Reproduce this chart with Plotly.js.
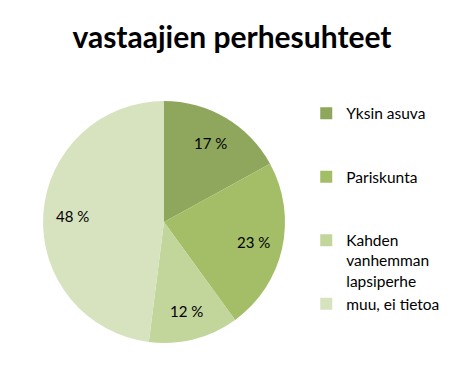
<!DOCTYPE html>
<html>
<head>
<meta charset="utf-8">
<script src="https://cdn.plot.ly/plotly-3.0.1.min.js"></script>
<style>html,body{margin:0;padding:0;background:#fff;}#chart{width:464px;height:390px;}</style>
</head>
<body>
<div id="chart"></div>
<script>
const categories = ["Yksin asuva", "Pariskunta", "Kahden vanhemman lapsiperhe", "muu, ei tietoa"];
const legendLabels = ["Yksin asuva<br> <br> ", "Pariskunta<br> <br> ", "Kahden<br>vanhemman<br>lapsiperhe", "muu, ei tietoa"];
const percentages = [17, 23, 12, 48];
const colors = ["#8EA75C", "#A3BE67", "#C2D59B", "#D7E3BF"];

const W = 464, H = 390;
const domX = [0.0927, 0.6142], domY = [0.1205, 0.741];
const fontFam = "Lato, 'Open Sans', sans-serif";

const trace = {
  type: "pie",
  labels: legendLabels,
  values: percentages,
  textinfo: "none",
  hoverinfo: "label+percent",
  sort: false,
  direction: "clockwise",
  rotation: 0,
  marker: {colors: colors, line: {width: 0}},
  domain: {x: domX, y: domY}
};

// data labels placed at each slice's mid-angle, computed from the values
const total = percentages.reduce((a, b) => a + b, 0);
const cxPx = (domX[0] + domX[1]) / 2 * W;
const cyPx = (domY[0] + domY[1]) / 2 * H;
const Rpx = Math.min((domX[1] - domX[0]) * W, (domY[1] - domY[0]) * H) / 2;
let cum = 0;
const annotations = percentages.map(v => {
  const mid = (cum + v / 2) / total * 2 * Math.PI;
  cum += v;
  const r = 0.76 * Rpx;
  return {
    xref: "paper", yref: "paper",
    x: (cxPx + r * Math.sin(mid)) / W,
    y: (cyPx + r * Math.cos(mid)) / H,
    text: v + " %", showarrow: false,
    xanchor: "center", yanchor: "middle",
    font: {family: fontFam, size: 15, color: "#000"}
  };
});

const layout = {
  width: W, height: H,
  margin: {l: 0, r: 0, t: 0, b: 0},
  paper_bgcolor: "#fff",
  title: {
    text: "<b>vastaajien perhesuhteet</b>",
    font: {family: fontFam, size: 30, color: "#000"},
    x: 0.5, xanchor: "center", y: 0.905, yanchor: "middle"
  },
  annotations: annotations,
  showlegend: true,
  legend: {
    x: 0.66, xanchor: "left", y: 0.752, yanchor: "top",
    valign: "top",
    font: {family: fontFam, size: 15.5, color: "#000"},
    itemwidth: 30,
    bgcolor: "rgba(0,0,0,0)"
  }
};

Plotly.newPlot("chart", [trace], layout, {displayModeBar: false, staticPlot: true});
</script>
</body>
</html>
